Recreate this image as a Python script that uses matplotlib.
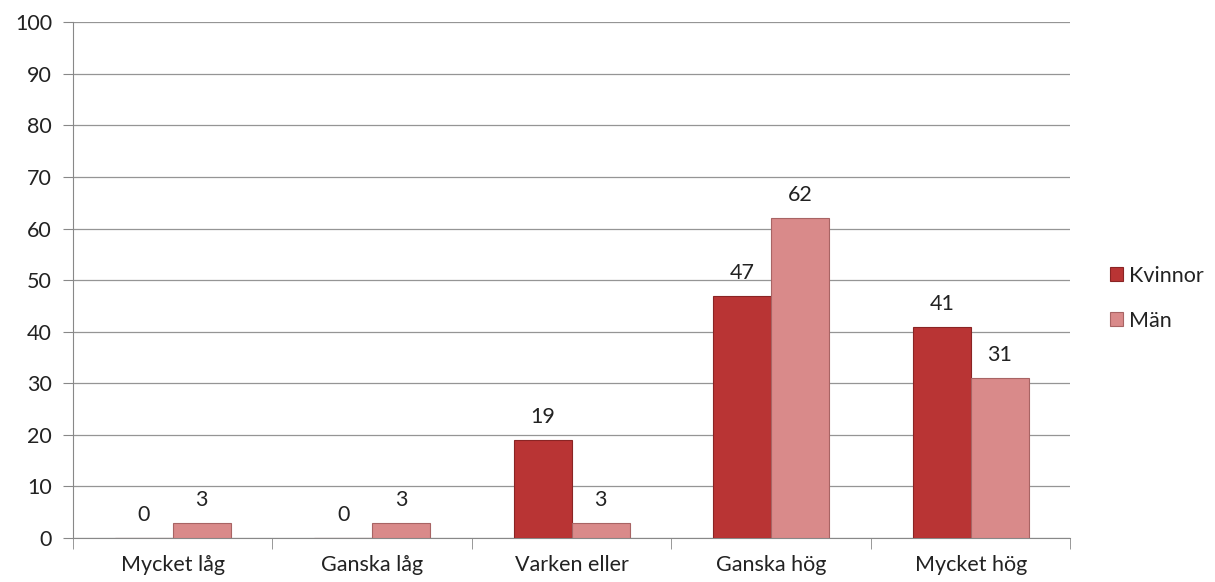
import numpy as np
import matplotlib.pyplot as plt

categories = ['Mycket låg', 'Ganska låg', 'Varken eller', 'Ganska hög', 'Mycket hög']
kvinnor = [0, 0, 19, 47, 41]
man = [3, 3, 3, 62, 31]

plt.rcParams['font.family'] = ['Lato', 'DejaVu Sans']
plt.rcParams['text.color'] = '#222222'
plt.rcParams['xtick.labelcolor'] = '#222222'
plt.rcParams['ytick.labelcolor'] = '#222222'
fs = 15.5

fig = plt.figure(figsize=(12.15, 5.82), dpi=100)
ax = fig.add_axes([0.060, 0.0756, 0.821, 0.886])

x = np.arange(len(categories))
w = 0.29
b1 = ax.bar(x - w / 2, kvinnor, w, color='#b93434', edgecolor='#8a2424', linewidth=0.8, label='Kvinnor', zorder=3)
b2 = ax.bar(x + w / 2, man, w, color='#d98a8a', edgecolor='#a86464', linewidth=0.8, label='Män', zorder=3)

for bars in (b1, b2):
    for r in bars:
        h = r.get_height()
        ax.text(r.get_x() + r.get_width() / 2, h + 2.5, f'{h:g}', ha='center', va='bottom',
                fontsize=fs)

ax.set_xlim(-0.5, len(categories) - 0.5)
ax.set_ylim(0, 100)
ax.set_yticks(np.arange(0, 101, 10))
ax.set_xticks(x)
ax.set_xticklabels(categories)
ax.set_xticks(np.arange(-0.5, len(categories), 1), minor=True)
ax.tick_params(axis='x', which='major', length=0, pad=12, labelsize=fs)
ax.tick_params(axis='x', which='minor', length=8, color='#888888')
ax.tick_params(axis='y', length=7, color='#888888', labelsize=fs, pad=8)

ax.grid(axis='y', color='#959595', linewidth=0.9, zorder=0)
for s in ['top', 'right']:
    ax.spines[s].set_visible(False)
ax.spines['left'].set_color('#888888')
ax.spines['bottom'].set_color('#888888')

ax.legend(loc='center left', bbox_to_anchor=(1.02, 0.465), frameon=False, fontsize=fs,
          handlelength=0.6, handleheight=0.6, handletextpad=0.3, labelspacing=1.15)

plt.savefig('out.png')
